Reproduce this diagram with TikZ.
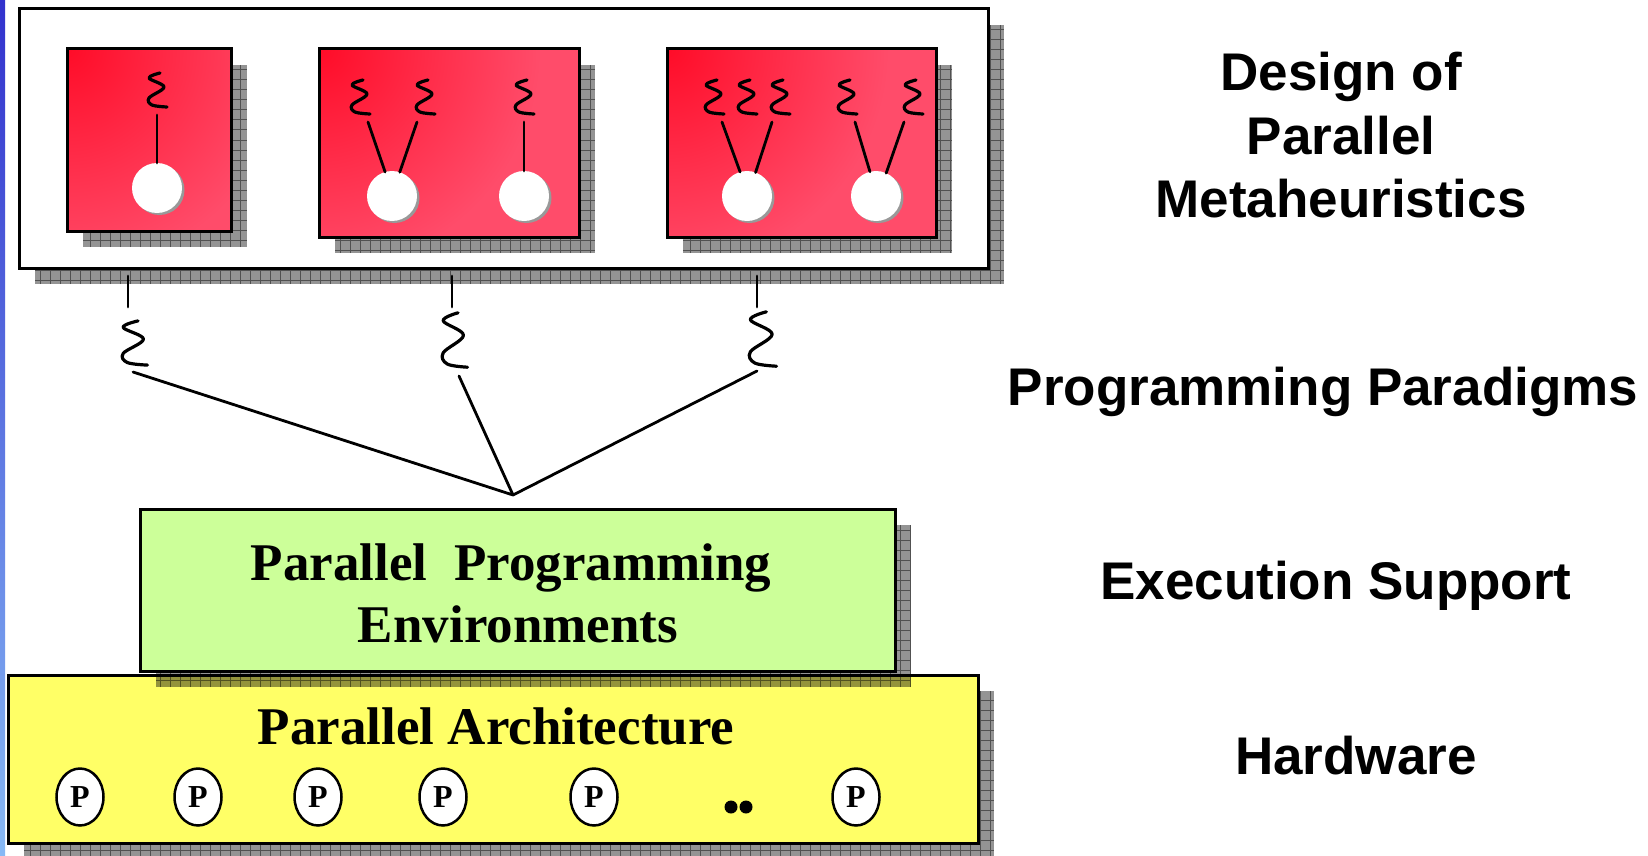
\documentclass[tikz,border=0pt]{standalone}
\usepackage{fontspec}
\setmainfont{Liberation Serif}
\newfontfamily\labelfont{Liberation Sans}
\usetikzlibrary{shapes.geometric}

\definecolor{redtop}{RGB}{255,12,40}
\definecolor{redbase}{RGB}{255,76,106}
\definecolor{envgreen}{RGB}{204,255,153}
\definecolor{archyellow}{RGB}{255,255,102}
\definecolor{bartop}{RGB}{50,50,205}
\definecolor{barbottom}{RGB}{135,185,245}

% red glow spreading from a corner, flat beyond ~60% of the radius
\pgfdeclareradialshading{cornerglow}{\pgfpoint{0bp}{0bp}}{%
  color(0bp)=(redtop); color(15bp)=(redbase); color(25bp)=(redbase); color(50bp)=(redbase)}

% hatched drop shadow: a translucent grey block with a 10pt grid
\newcommand\gridshadow[4]{%
  \begin{scope}
    \clip (#1,#2) rectangle (#3,#4);
    \fill[black, opacity=0.42] (#1,#2) rectangle (#3,#4);
    \draw[black, opacity=0.45, line width=1pt, step=10pt] (#1,#2) grid (#3,#4);
  \end{scope}}

\tikzset{
  boxframe/.style={draw=black, line width=3pt, inner sep=0pt, outer sep=0pt, anchor=north west},
  designbox/.style={boxframe, fill=white},
  redbox/.style={boxframe, fill=redbase,
    path picture={\shade[shading=cornerglow]
      (path picture bounding box.north west) circle[radius=370pt];}},
  envbox/.style={boxframe, fill=envgreen},
  archbox/.style={boxframe, fill=archyellow},
  heuristic/.style={circle, fill=white, inner sep=0pt, outer sep=0pt, minimum size=50pt,
    preaction={fill=black!40, transform canvas={shift={(2.5pt,-2pt)}}}},
  wire/.style={line width=2.8pt, line cap=round},
  squig/.pic={\draw[line width=3.2pt, line cap=round, line join=round]
    plot[smooth, tension=0.6] coordinates {(3,-17) (-8,-12) (7,-3) (-8,8) (-5,15) (10,17)};},
  pnode/.style={ellipse, draw=black, line width=2.5pt, fill=white, inner sep=0pt,
    minimum width=47pt, minimum height=57pt, font=\bfseries\fontsize{32}{32}\selectfont},
  ellipsisdot/.style={circle, fill=black, inner sep=0pt, minimum size=13pt},
  layerlabel/.style={font=\labelfont\bfseries\fontsize{53}{63}\selectfont, anchor=base, inner sep=0pt},
  boxtext/.style={font=\bfseries\fontsize{53}{62}\selectfont, anchor=base, inner sep=0pt},
}

\begin{document}
\begin{tikzpicture}[x=1pt, y=-1pt]
\useasboundingbox (0,0) rectangle (1648,856);
\fill[white] (0,0) rectangle (1648,856);

% side bar
\shade[top color=bartop, bottom color=barbottom] (0,0) rectangle (5,856);

% ---- design of parallel metaheuristics ----
\gridshadow{35}{25}{1004}{284}
\node[designbox, minimum width=969pt, minimum height=259pt] (design) at (19,9) {};

\gridshadow{83}{65}{247}{247}
\node[redbox, minimum width=164pt, minimum height=182pt] (r1) at (67,49) {};
\gridshadow{335}{65}{595}{253}
\node[redbox, minimum width=260pt, minimum height=188pt] (r2) at (319,49) {};
\gridshadow{683}{65}{952}{253}
\node[redbox, minimum width=269pt, minimum height=188pt] (r3) at (667,49) {};

% processes (circles) and their threads
\node[heuristic] (c1) at (157,188) {};
\node[heuristic] (c2a) at (392,196) {};
\node[heuristic] (c2b) at (524,196) {};
\node[heuristic] (c3a) at (747,196) {};
\node[heuristic] (c3b) at (876,196) {};

\pic at (157,90) {squig};
\pic at (360,97) {squig};
\pic at (425,97) {squig};
\pic at (524,97) {squig};
\pic at (714,97) {squig};
\pic at (747,97) {squig};
\pic at (780,97) {squig};
\pic at (847,97) {squig};
\pic at (913,97) {squig};

\coordinate (s1) at (157,115);
\coordinate (s2a) at (368,122);
\coordinate (s2b) at (417,122);
\coordinate (s2c) at (524,122);
\coordinate (s3a) at (722,122);
\coordinate (s3b) at (772,122);
\coordinate (s3c) at (855,122);
\coordinate (s3d) at (904,122);

\draw[wire] (s1) -- (c1.north);
\draw[wire] (s2a) -- (c2a.106);
\draw[wire] (s2b) -- (c2a.72);
\draw[wire] (s2c) -- (c2b.north);
\draw[wire] (s3a) -- (c3a.106);
\draw[wire] (s3b) -- (c3a.70);
\draw[wire] (s3c) -- (c3b.104);
\draw[wire] (s3d) -- (c3b.66);

% ---- programming paradigms: links down to the environment ----
\coordinate (t1a) at (128,276);
\coordinate (t1b) at (128,307);
\coordinate (t2a) at (452,276);
\coordinate (t2b) at (452,307);
\coordinate (t3a) at (757,276);
\coordinate (t3b) at (757,307);
\draw[wire] (t1a) -- (t1b);
\draw[wire] (t2a) -- (t2b);
\draw[wire] (t3a) -- (t3b);

\pic[xscale=1.35, yscale=1.3] at (134,343) {squig};
\pic[xscale=1.35, yscale=1.6] at (454,340) {squig};
\pic[xscale=1.45, yscale=1.6] at (762,339) {squig};

\coordinate (m1) at (133,372);
\coordinate (m2) at (459,376);
\coordinate (m3) at (757,371);
\coordinate (join) at (513,495);
\draw[wire] (m1) -- (join);
\draw[wire] (m2) -- (join);
\draw[wire] (m3) -- (join);

% ---- hardware ----
\gridshadow{24}{691}{994}{859}
\node[archbox, minimum width=970pt, minimum height=168pt] (arch) at (8,675) {};
\node[boxtext] (archtext) at (496,744) {Parallel Architecture};

\node[pnode] (p1) at (80,797) {P};
\node[pnode] (p2) at (198,797) {P};
\node[pnode] (p3) at (318,797) {P};
\node[pnode] (p4) at (443,797) {P};
\node[pnode] (p5) at (594,797) {P};
\node[ellipsisdot] (d1) at (731,807) {};
\node[ellipsisdot] (d2) at (746,807) {};
\node[pnode] (p6) at (856,797) {P};

% ---- execution support ----
\gridshadow{156}{525}{911}{687}
\node[envbox, minimum width=755pt, minimum height=162pt] (env) at (140,509) {};
\node[boxtext] (envtext1) at (511,580) {Parallel\ \ Programming};
\node[boxtext] (envtext2) at (518,642) {Environments};

% ---- layer names ----
\node[layerlabel] (lab1) at (1341,91) {Design of};
\node[layerlabel] (lab2) at (1341,154) {Parallel};
\node[layerlabel] (lab3) at (1341,217) {Metaheuristics};
\node[layerlabel] (lab4) at (1323,405) {Programming Paradigms};
\node[layerlabel] (lab5) at (1336,599) {Execution Support};
\node[layerlabel] (lab6) at (1356,774) {Hardware};
\end{tikzpicture}
\end{document}
